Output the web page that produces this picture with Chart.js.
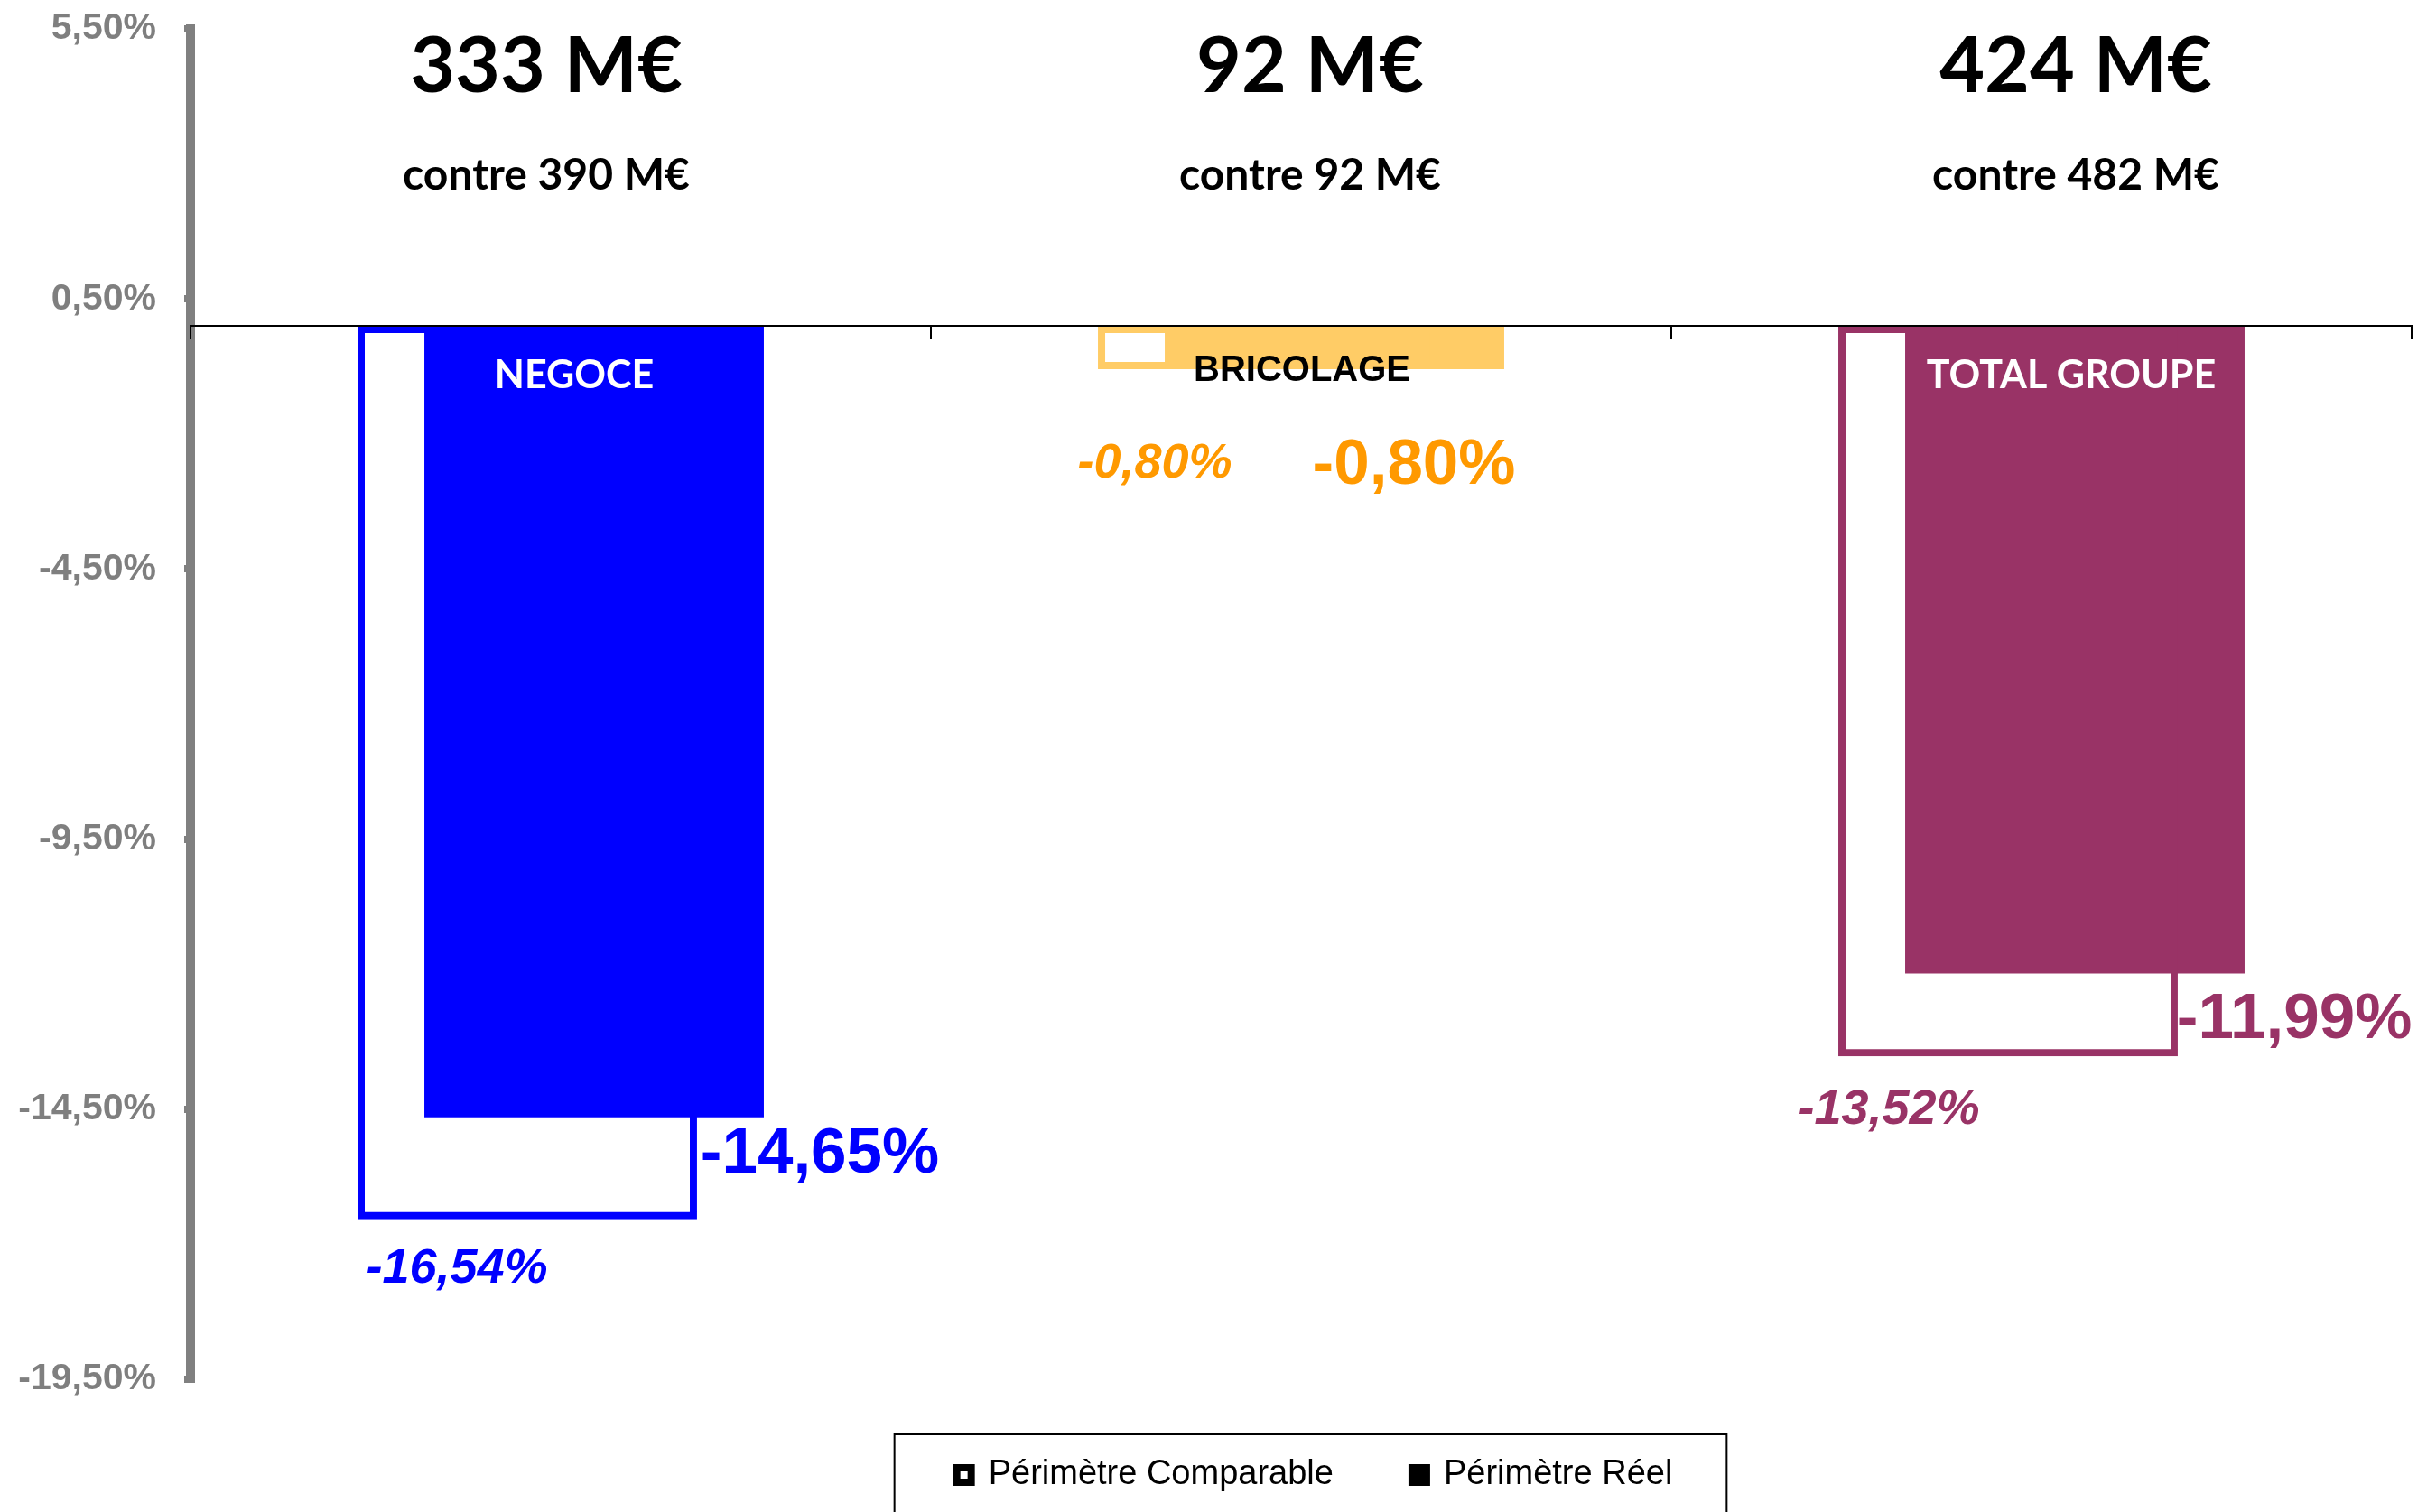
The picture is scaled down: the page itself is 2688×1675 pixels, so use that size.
<!DOCTYPE html>
<html><head><meta charset="utf-8">
<script src="https://cdn.jsdelivr.net/npm/chart.js@4.4.1/dist/chart.umd.min.js"></script>
<style>html,body{margin:0;padding:0;background:#fff;} canvas{display:block}</style>
</head><body>
<canvas id="c" width="2688" height="1675"></canvas>
<script>
// ---- data ----
const categories = ['NEGOCE', 'BRICOLAGE', 'TOTAL GROUPE'];
const seriesNames = ['Périmètre Comparable', 'Périmètre Réel'];
const comparable = [-16.54, -0.80, -13.52];
const reel = [-14.65, -0.80, -11.99];
const revenue = [333, 92, 424];
const revenuePrior = [390, 92, 482];
const yTicks = [-19.5, -14.5, -9.5, -4.5, 0.5, 5.5];

// ---- styles ----
const barColors = ['#0000FF', '#FFCC66', '#993366'];
const labelColors = ['#0000FF', '#FF9900', '#993366'];
const catLabelColors = ['#FFFFFF', '#000000', '#FFFFFF'];
const catLabelFonts = ['bold 43px Lato', 'bold 40px "Liberation Sans"', 'bold 43px Lato'];
const catLabelDx = [15, 1, 33];
const catLabelDy = [69, 61, 69];
const headerDx = [-16, 10, 38];
const compLabelOffset = [[-78, 55], [-125, 105], [-132, 60]];
const realLabelOffset = [[250, 42], [88, 107], [243, 52]];

const fmt = v => v.toFixed(2).replace('.', ',') + '%';

const legendShift = {
  id: 'legendShift',
  afterLayout(chart) {
    if (chart.legend) { chart.legend.left += 15; chart.legend.right += 15; }
  }
};

const annotations = {
  id: 'annotations',
  afterDraw(chart) {
    const ctx = chart.ctx;
    const xs = chart.scales.x, ys = chart.scales.y;
    const zero = ys.getPixelForValue(0);
    const top = chart.chartArea.top;
    const metaC = chart.getDatasetMeta(0), metaR = chart.getDatasetMeta(1);
    ctx.save();
    categories.forEach((c, i) => {
      const cx = xs.getPixelForValue(i);
      ctx.textAlign = 'center';
      ctx.textBaseline = 'alphabetic';
      ctx.fillStyle = '#000';
      ctx.font = 'bold 86px Lato';
      ctx.fillText(revenue[i] + ' M€', cx + headerDx[i], top + 70);
      ctx.font = 'bold 48px Lato';
      ctx.fillText('contre ' + revenuePrior[i] + ' M€', cx + headerDx[i], top + 178);
      // category label in bar
      ctx.font = catLabelFonts[i];
      ctx.fillStyle = catLabelColors[i];
      ctx.fillText(c, cx + catLabelDx[i], zero + catLabelDy[i]);
      // value labels
      ctx.textBaseline = 'middle';
      const ec = metaC.data[i], er = metaR.data[i];
      ctx.fillStyle = labelColors[i];
      ctx.font = 'italic bold 54px "Liberation Sans"';
      ctx.fillText(fmt(comparable[i]), ec.x + compLabelOffset[i][0], ec.y + compLabelOffset[i][1]);
      ctx.font = 'bold 71px "Liberation Sans"';
      ctx.fillText(fmt(reel[i]), er.x + realLabelOffset[i][0], er.y + realLabelOffset[i][1]);
    });
    // legend frame
    const lg = chart.legend;
    if (lg && lg.legendHitBoxes && lg.legendHitBoxes.length) {
      const hb = lg.legendHitBoxes;
      const l = hb[0].left - 69;
      const r = hb[hb.length - 1].left + hb[hb.length - 1].width + 60;
      const t = lg.top + 61;
      ctx.strokeStyle = '#000';
      ctx.lineWidth = 2;
      ctx.strokeRect(l, t, r - l, chart.height + 20 - t);
    }
    ctx.restore();
  }
};

new Chart(document.getElementById('c'), {
  type: 'bar',
  data: {
    labels: categories,
    datasets: [
      { label: seriesNames[0], data: comparable, backgroundColor: 'rgba(0,0,0,0)', borderColor: barColors,
        borderWidth: 8, borderSkipped: false, categoryPercentage: 0.1805, barPercentage: 5.08 },
      { label: seriesNames[1], data: reel, backgroundColor: barColors, borderWidth: 0,
        categoryPercentage: 0.1805, barPercentage: 5.08 }
    ]
  },
  options: {
    responsive: false,
    devicePixelRatio: 1,
    animation: false,
    events: [],
    layout: { padding: { left: 20, right: 17, top: 32, bottom: 12 } },
    scales: {
      x: {
        type: 'category',
        position: { y: 0 },
        offset: true,
        grid: { offset: true, drawOnChartArea: false, drawTicks: true, tickLength: 13, lineWidth: 2, color: '#000', z: 1 },
        border: { display: true, color: '#000', width: 2, z: 1 },
        ticks: { display: false }
      },
      y: {
        min: -19.5, max: 5.5,
        afterBuildTicks: s => { s.ticks = yTicks.map(v => ({ value: v })); },
        afterFit: s => { s.width = 191; s.paddingTop = 0; s.paddingBottom = 0; },
        grid: { drawOnChartArea: false, drawTicks: true, tickLength: 7, lineWidth: 8, color: '#808080' },
        border: { display: true, color: '#808080', width: 10 },
        ticks: { padding: 31, color: '#7F7F7F', font: { family: 'Liberation Sans', size: 41, weight: 'bold' },
                 callback: v => fmt(v) }
      }
    },
    plugins: {
      tooltip: { enabled: false },
      legend: {
        position: 'bottom',
        fullSize: false,
        labels: {
          color: '#000',
          font: { family: 'Liberation Sans', size: 38 },
          boxWidth: 16, boxHeight: 16, padding: 87,
          generateLabels: () => [
            { text: seriesNames[0], fillStyle: '#FFFFFF', strokeStyle: '#000', lineWidth: 8, datasetIndex: 0 },
            { text: seriesNames[1], fillStyle: '#000', strokeStyle: '#000', lineWidth: 8, datasetIndex: 1 }
          ]
        }
      }
    }
  },
  plugins: [legendShift, annotations]
});
</script>
</body></html>
